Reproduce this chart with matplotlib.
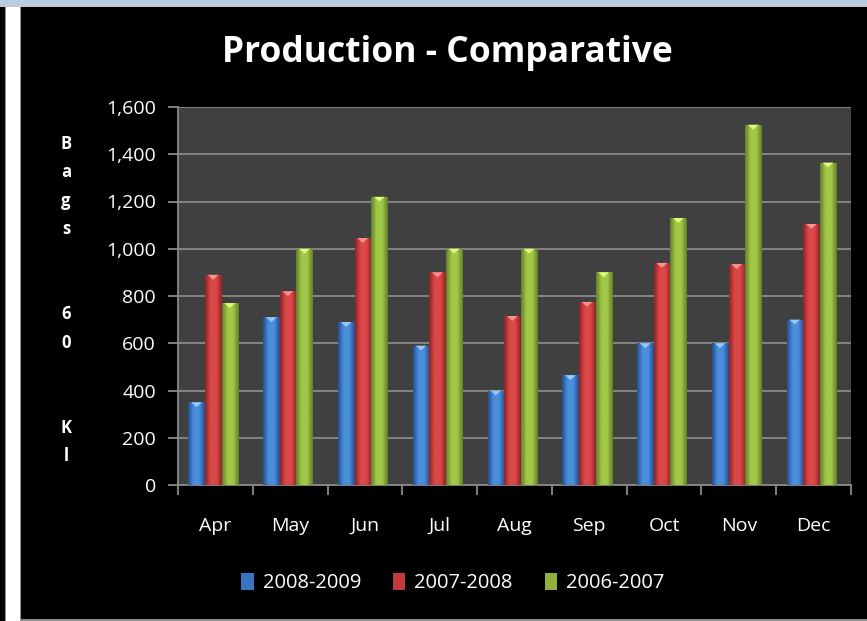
import numpy as np
import matplotlib
matplotlib.use("Agg")
import matplotlib.pyplot as plt
from matplotlib.patches import Rectangle, Patch
from matplotlib.path import Path
from matplotlib.colors import LinearSegmentedColormap

months = ["Apr", "May", "Jun", "Jul", "Aug", "Sep", "Oct", "Nov", "Dec"]
series_names = ["2008-2009", "2007-2008", "2006-2007"]
s2008_2009 = [350, 710, 690, 590, 400, 465, 600, 600, 700]
s2007_2008 = [890, 820, 1045, 900, 715, 775, 940, 935, 1105]
s2006_2007 = [770, 1000, 1220, 1000, 1000, 900, 1130, 1525, 1365]
y_ticks = [0, 200, 400, 600, 800, 1000, 1200, 1400, 1600]
y_label = "Bags 60 Kl"

series = [s2008_2009, s2007_2008, s2006_2007]
# (dark edge, light centre, highlight for top bevel)
palettes = [
    ("#23508f", "#4a8edc", "#9fd0ff"),
    ("#8e2426", "#dc4848", "#ff9a9a"),
    ("#62802a", "#a2c848", "#e8ff80"),
]
legend_colors = ["#3a74c0", "#c23a3a", "#8fb03c"]

plt.rcParams['font.family'] = ['Open Sans', 'DejaVu Sans']

fig = plt.figure(figsize=(8.67, 6.21), dpi=100, facecolor="black")

# frame decorations (window chrome around the chart)
W, H = 867.0, 621.0
fig.add_artist(Rectangle((0, 1 - 5 / H), 1, 5 / H, transform=fig.transFigure,
                         facecolor="#b8cce4", edgecolor="none", zorder=0))
fig.add_artist(Rectangle((0, 1 - 7 / H), 1, 2 / H, transform=fig.transFigure,
                         facecolor="#c8c8c8", edgecolor="none", zorder=0))
fig.add_artist(Rectangle((6 / W, 0), 14 / W, 1 - 7 / H, transform=fig.transFigure,
                         facecolor="white", edgecolor="none", zorder=0))
fig.add_artist(Rectangle((5 / W, 0), 1 / W, 1 - 7 / H, transform=fig.transFigure,
                         facecolor="#909090", edgecolor="none", zorder=0))
fig.add_artist(Rectangle((20 / W, 0), 1.2 / W, 1 - 7 / H, transform=fig.transFigure,
                         facecolor="#909090", edgecolor="none", zorder=0))
fig.add_artist(Rectangle((20 / W, 0), 1 - 20 / W, 2 / H, transform=fig.transFigure,
                         facecolor="#909090", edgecolor="none", zorder=0))

ax = fig.add_axes([178 / W, 1 - 485 / H, (851 - 178) / W, (485 - 107) / H])
ax.set_facecolor("#404040")

x = np.arange(len(months))
bw = 0.222
offsets = [-bw, 0, bw]
shift = -0.03

tri = Path([(-1, 0), (1, 0), (0, -0.9), (-1, 0)],
           [Path.MOVETO, Path.LINETO, Path.LINETO, Path.CLOSEPOLY])

for vals, off, (dark, light, hi) in zip(series, offsets, palettes):
    bars = ax.bar(x + off + shift, vals, width=bw * 0.97, color=light,
                  edgecolor="none", zorder=3)
    cmap = LinearSegmentedColormap.from_list("g", [dark, light, light, dark], N=256)
    grad = np.linspace(0, 1, 64).reshape(1, -1)
    for b in bars:
        x0, y0 = b.get_x(), b.get_y()
        w, h = b.get_width(), b.get_height()
        im = ax.imshow(grad, cmap=cmap, aspect="auto",
                       extent=(x0, x0 + w, y0, y0 + h), zorder=3.5,
                       interpolation="bilinear")
        im.set_clip_path(b)
    ax.scatter(x + off + shift, vals, marker=tri, s=60, color=hi,
               edgecolors="none", zorder=4, alpha=0.9)

ax.set_xlim(-0.5, len(months) - 0.5)
ax.set_ylim(0, 1600)
ax.set_yticks(y_ticks)
ax.set_yticklabels([f"{v:,}" for v in y_ticks])
ax.set_xticks(x)
ax.set_xticklabels(months)
ax.set_xticks(np.arange(-0.5, len(months)), minor=True)

ax.grid(axis="y", color="#8a8a8a", linewidth=1.3, zorder=1)
ax.set_axisbelow(True)
for s in ["top", "right"]:
    ax.spines[s].set_visible(False)
for s in ["left", "bottom"]:
    ax.spines[s].set_color("#8a8a8a")
    ax.spines[s].set_linewidth(1.3)

ax.tick_params(axis="y", colors="#8a8a8a", length=7, width=1.3, pad=9,
               labelcolor="white", labelsize=14)
ax.tick_params(axis="x", which="major", length=0, pad=23,
               labelcolor="white", labelsize=14)
ax.tick_params(axis="x", which="minor", colors="#8a8a8a", length=7, width=1.3)

# stacked vertical axis title
stacked = "\n".join(list(y_label.replace(" ", "  ")))
fig.text(66 / W, 1 - 300 / H, stacked,
         color="white", fontsize=12, fontweight="bold", ha="center", va="center",
         linespacing=1.74)

fig.text(447 / W, 1 - 53 / H, "Production - Comparative", color="white",
         fontsize=25.5, fontweight="bold", ha="center", va="center")

handles = [Patch(facecolor=c, edgecolor="none") for c in legend_colors]
fig.legend(handles, series_names, loc="center", bbox_to_anchor=(453 / W, 1 - 583 / H),
           ncol=3, frameon=False, labelcolor="white", fontsize=14.5,
           handlelength=0.6, handleheight=0.9, handletextpad=0.45, columnspacing=1.6)

fig.savefig("out.png", dpi=100, facecolor="black")
